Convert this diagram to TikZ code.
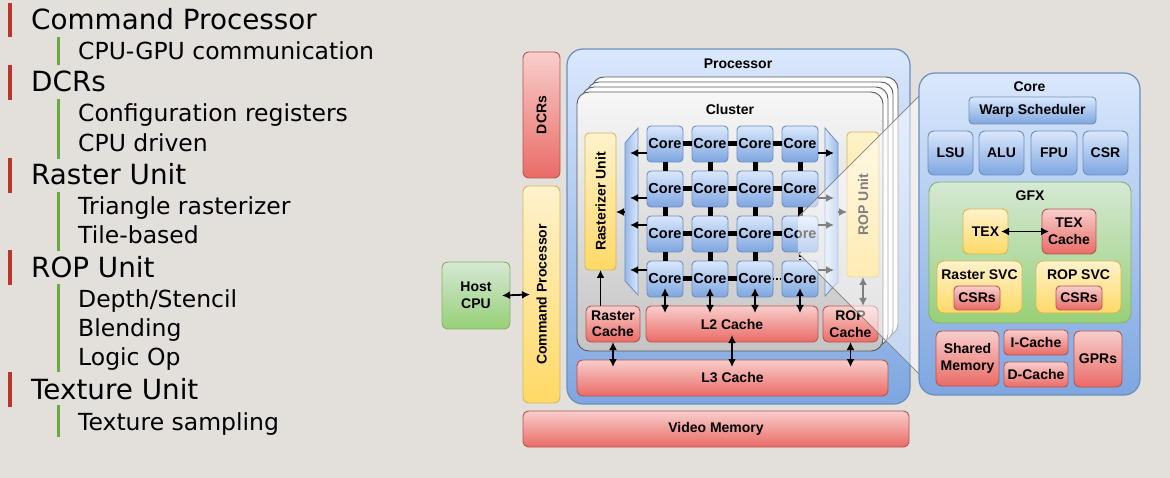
\documentclass[tikz,border=0pt]{standalone}
\usepackage{fontspec}
\setmainfont{Liberation Sans}
\newfontfamily\listfont{DejaVu Sans}
\usetikzlibrary{arrows.meta,fit,calc}
\definecolor{bgc}{RGB}{227,224,219}
\definecolor{redtop}{HTML}{F8CECC}
\definecolor{redbot}{HTML}{EA6B66}
\definecolor{redline}{HTML}{B85450}
\definecolor{yeltop}{HTML}{FFF2CC}
\definecolor{yelbot}{HTML}{FFD966}
\definecolor{yelline}{HTML}{D6B656}
\definecolor{grntop}{HTML}{D5E8D4}
\definecolor{grnbot}{HTML}{97D077}
\definecolor{grnline}{HTML}{82B366}
\definecolor{blutop}{HTML}{DAE8FC}
\definecolor{blubot}{HTML}{7EA6E0}
\definecolor{bluline}{HTML}{6C8EBF}
\definecolor{clutop}{HTML}{F7F7F7}
\definecolor{clubot}{HTML}{C4C4C4}
\definecolor{cluline}{HTML}{5A5A5A}
\definecolor{barred}{HTML}{B8372D}
\definecolor{bargrn}{HTML}{6BAA43}
\newcommand\mkbox[7]{\node[#1, fit={(#3,#4) (#5,#6)}] (#2) {};
  \node[lbl] at (#2.center) {#7};}
\tikzset{
  base/.style={inner sep=0pt, outer sep=0pt, line width=0.9pt},
  redbox/.style={base, rounded corners=4pt, draw=redline, top color=redtop, bottom color=redbot},
  yelbox/.style={base, rounded corners=4pt, draw=yelline, top color=yeltop, bottom color=yelbot},
  grnbox/.style={base, rounded corners=4pt, draw=grnline, top color=grntop, bottom color=grnbot},
  blubox/.style={base, rounded corners=4pt, draw=bluline, top color=blutop, bottom color=blubot},
  corebox/.style={blubox, minimum width=36pt, minimum height=36pt,
    font=\bfseries\fontsize{14.5}{16.5}\selectfont},
  lbl/.style={inner sep=0pt, font=\bfseries\fontsize{14}{16.5}\selectfont, align=center},
  link/.style={line width=5pt},
  dotlink/.style={line width=1.3pt, dotted},
  arr/.style={line width=1.8pt, -{Latex[length=8pt,width=8pt]}},
  darr/.style={line width=1.8pt, {Latex[length=8pt,width=8pt]}-{Latex[length=8pt,width=8pt]}},
  mainitem/.style={anchor=base west, inner sep=0pt, font=\listfont\fontsize{27.8}{30}\selectfont},
  subitem/.style={anchor=base west, inner sep=0pt, font=\listfont\fontsize{23.5}{26}\selectfont},
}
\begin{document}
\begin{tikzpicture}[x=1pt,y=-1pt]
\fill[bgc] (0,0) rectangle (1170,478);
\useasboundingbox (0,0) rectangle (1170,478);

% ---------- left list ----------
\fill[barred] (8,3) rectangle (11.5,37);
\node[mainitem] (m1) at (31,30) {Command Processor};
\fill[bargrn] (57,37) rectangle (60,65);
\node[subitem] (s11) at (78,60) {CPU-GPU communication};
\fill[barred] (8,65) rectangle (11.5,100);
\node[mainitem] (m2) at (31,92) {DCRs};
\fill[bargrn] (57,99) rectangle (60,159);
\node[subitem] (s21) at (78,122) {Configuration registers};
\node[subitem] (s22) at (78,152) {CPU driven};
\fill[barred] (8,158) rectangle (11.5,193);
\node[mainitem] (m3) at (31,185) {Raster Unit};
\fill[bargrn] (57,192) rectangle (60,251);
\node[subitem] (s31) at (78,215) {Triangle rasterizer};
\node[subitem] (s32) at (78,244) {Tile-based};
\fill[barred] (8,250) rectangle (11.5,285);
\node[mainitem] (m4) at (31,278) {ROP Unit};
\fill[bargrn] (57,284) rectangle (60,372);
\node[subitem] (s41) at (78,308) {Depth/Stencil};
\node[subitem] (s42) at (78,337) {Blending};
\node[subitem] (s43) at (78,365) {Logic Op};
\fill[barred] (8,372) rectangle (11.5,407);
\node[mainitem] (m5) at (31,399) {Texture Unit};
\fill[bargrn] (57,405) rectangle (60,437);
\node[subitem] (s51) at (78,430) {Texture sampling};

% ---------- outer blocks ----------
\mkbox{redbox, rounded corners=6pt}{dcr}{523}{52}{560}{178}{}
\node[lbl, rotate=90] at (dcr) {DCRs};
\mkbox{yelbox, rounded corners=6pt}{cmd}{523}{186}{560}{403}{}
\node[lbl, rotate=90] at (cmd) {Command Processor};
\mkbox{grnbox, rounded corners=6pt}{host}{442}{262}{510}{329}{Host\\CPU}
\mkbox{redbox, rounded corners=6pt}{vmem}{523}{411}{909}{447}{Video Memory}

% ---------- processor ----------
\mkbox{blubox, rounded corners=16pt, line width=1.2pt}{proc}{567}{49}{910}{404}{}
\node[lbl] (proct) at (738,64) {Processor};

\foreach \k in {3,2,1}
  \draw[cluline, fill=white, rounded corners=12pt, line width=0.9pt]
    (577+5*\k, 92-5*\k) rectangle (883+5*\k, 351-5*\k);
\mkbox{base, draw=cluline, top color=clutop, bottom color=clubot, rounded corners=12pt}{clu}{577}{92}{883}{351}{}
\node[lbl] (clut) at (730,109) {Cluster};

\mkbox{yelbox}{ru}{585}{133}{616}{270}{}
\node[lbl, rotate=90] at (ru) {Rasterizer Unit};
\mkbox{yelbox}{ropu}{847}{132}{879}{277}{}
\node[lbl, rotate=90] at (ropu) {ROP Unit};

% buses
\draw[bluline, line width=0.8pt, left color=blubot!70!blutop, right color=blutop]
  (625,143) -- (638,128) -- (638,295) -- (625,281) -- cycle;
\draw[bluline, line width=0.8pt, left color=blutop, right color=blubot!70!blutop]
  (825,128) -- (838,143) -- (838,282) -- (825,296) -- cycle;

% cores
\foreach \r/\y in {1/144,2/189,3/234,4/279}
  \foreach \c/\x in {1/665,2/710,3/755,4/800}
    \node[corebox] (c\r\c) at (\x,\y) {Core};
\foreach \r in {1,2,3}
  \foreach \c/\d in {1/2,2/3,3/4}
    \draw[link] (c\r\c.east) -- (c\r\d.west);
\draw[link] (c41.east) -- (c42.west);
\draw[link] (c42.east) -- (c43.west);
\draw[dotlink] (c43.east) -- (c44.west);
\foreach \c in {1,2,3,4}
  \foreach \r/\s in {1/2,2/3}
    \draw[link] (c\r\c.south) -- (c\s\c.north);
\foreach \c in {1,2,3}
  \draw[link] (c3\c.south) -- (c4\c.north);
\draw[dotlink] (c34.south) -- (c44.north);

% core -> bus arrows
\foreach \r/\y in {1/153,2/198,3/225,4/270} {
  \coordinate (la\r) at (630,\y);
  \coordinate (ra\r) at (834,\y);
  \draw[arr] (c\r1.west |- la\r) -- (la\r);
  \draw[arr] (c\r4.east |- ra\r) -- (ra\r);
}
\coordinate (lbr) at (625,212);
\coordinate (rbr) at (838,212);
\draw[arr] (lbr) -- (lbr -| ru.east);
\draw[arr] (rbr) -- (rbr -| ropu.west);

% caches
\mkbox{redbox, rounded corners=5pt}{rc}{586}{306}{640}{342}{Raster\\Cache}
\mkbox{redbox, rounded corners=5pt}{l2}{646}{306}{818}{342}{L2 Cache}
\mkbox{redbox, rounded corners=5pt}{ropc}{823}{306}{878}{342}{ROP\\Cache}
\mkbox{redbox, rounded corners=6pt}{l3}{577}{360}{888}{396}{L3 Cache}

\foreach \c in {1,2,3,4}
  \draw[darr] ($(c4\c.south)+(0,-9)$) -- ($(c4\c.south |- l2.north)+(0,7)$);
\draw[arr] (ru.south |- rc.north) -- (ru.south);
\draw[darr] (ropu.south) -- (ropu.south |- ropc.north);
\draw[darr] (rc.south) -- ($(rc.south |- l3.north)+(0,7)$);
\draw[darr] ($(l2.south)+(0,-7)$) -- ($(l2.south |- l3.north)+(0,7)$);
\draw[darr] (ropc.south) -- ($(ropc.south |- l3.north)+(0,7)$);

\draw[darr] ($(host.east)+(-8,0)$) -- ($(cmd.west)+(7,0)$);

% ---------- zoom overlay ----------
\coordinate (ov1) at (798,217);
\coordinate (ov2) at (920,95);
\coordinate (ov3) at (920,375);
\coordinate (ov4) at (798,253);
\fill[white, opacity=0.5] (ov1) -- (ov2) -- (ov3) -- (ov4) -- cycle;
\draw[gray, line width=0.7pt] (ov1) -- (ov2);
\draw[gray, line width=0.7pt] (ov4) -- (ov3);

% ---------- core panel ----------
\mkbox{blubox, rounded corners=16pt, line width=1.2pt}{corep}{919}{73}{1140}{395}{}
\node[lbl] (coret) at (1029.5,87) {Core};
\mkbox{blubox}{warp}{969}{97}{1096}{124}{Warp Scheduler}
\mkbox{blubox, rounded corners=6pt}{lsu}{928}{131}{973}{175}{LSU}
\mkbox{blubox, rounded corners=6pt}{alu}{979}{131}{1024}{175}{ALU}
\mkbox{blubox, rounded corners=6pt}{fpu}{1031}{131}{1077}{175}{FPU}
\mkbox{blubox, rounded corners=6pt}{csr}{1083}{131}{1128}{175}{CSR}
\mkbox{grnbox, rounded corners=10pt}{gfx}{929}{182}{1131}{323}{}
\node[lbl] (gfxt) at (1030,196) {GFX};
\mkbox{yelbox, rounded corners=6pt}{tex}{963}{209}{1008}{254}{TEX}
\mkbox{redbox, rounded corners=6pt}{texc}{1042}{209}{1096}{254}{TEX\\Cache}
\draw[darr] ($(tex.east)+(-7,0)$) -- ($(texc.west)+(7,0)$);
\mkbox{yelbox, rounded corners=7pt}{rsvc}{937}{261}{1022}{313}{}
\node[lbl] (rsvct) at (979.5,275) {Raster SVC};
\mkbox{redbox}{rcsr}{954}{286}{1000}{310}{CSRs}
\mkbox{yelbox, rounded corners=7pt}{osvc}{1036}{261}{1121}{313}{}
\node[lbl] (osvct) at (1078.5,275) {ROP SVC};
\mkbox{redbox}{ocsr}{1056}{286}{1102}{310}{CSRs}
\mkbox{redbox, rounded corners=6pt}{shm}{936}{331}{999}{386}{Shared\\Memory}
\mkbox{redbox}{icache}{1004}{330}{1068}{355}{I-Cache}
\mkbox{redbox}{dcache}{1004}{362}{1068}{387}{D-Cache}
\mkbox{redbox, rounded corners=6pt}{gpr}{1074}{331}{1122}{387}{GPRs}
\end{tikzpicture}
\end{document}
